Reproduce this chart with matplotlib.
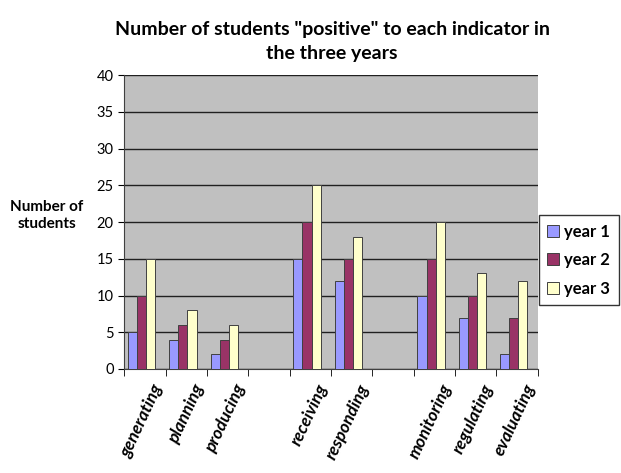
import numpy as np
import matplotlib.pyplot as plt

plt.rcParams['font.family'] = ['Lato', 'DejaVu Sans']

categories = ['generating', 'planning', 'producing', '',
              'receiving', 'responding', '',
              'monitoring', 'regulating', 'evaluating']
year1 = [5, 4, 2, 0, 15, 12, 0, 10, 7, 2]
year2 = [10, 6, 4, 0, 20, 15, 0, 15, 10, 7]
year3 = [15, 8, 6, 0, 25, 18, 0, 20, 13, 12]
series = ['year 1', 'year 2', 'year 3']
colors = ['#9999ff', '#993366', '#ffffcc']

fig = plt.figure(figsize=(6.21, 4.73), dpi=100)
ax = fig.add_axes([0.2, 0.22, 0.666, 0.621])
ax.set_facecolor('#c0c0c0')

x = np.arange(len(categories))
w = 0.22
handles = []
for i, (vals, c, lab) in enumerate(zip([year1, year2, year3], colors, series)):
    v = np.array(vals, dtype=float)
    mask = v > 0
    b = ax.bar(x[mask] + (i - 1) * w - 0.08, v[mask], width=w, color=c,
               edgecolor='#404040', linewidth=0.7, label=lab, zorder=3)
    handles.append(b)

ax.set_xlim(-0.5, len(categories) - 0.5)
ax.set_ylim(0, 40)
ax.set_yticks(range(0, 41, 5))
ax.yaxis.grid(True, color='#202020', linewidth=1.0, zorder=1)
ax.set_axisbelow(True)

# labels sit a little right of the slot centre, as in the original
ax.set_xticks(x + 0.15)
ax.set_xticklabels(categories, rotation=65, ha='right', rotation_mode='anchor',
                   fontsize=12.5, fontweight='bold', style='italic')
ax.tick_params(axis='x', length=0, pad=9)
ax.set_xticks(np.arange(-0.5, len(categories)), minor=True)
ax.tick_params(axis='x', which='minor', length=5, direction='out')
ax.tick_params(axis='y', labelsize=10.5, length=4)

for s in ['top', 'right']:
    ax.spines[s].set_visible(False)
ax.spines['left'].set_color('#404040')
ax.spines['bottom'].set_color('#404040')

fig.text(0.535, 0.955, 'Number of students "positive" to each indicator in\nthe three years',
         ha='center', va='top', fontsize=14, fontweight='bold', linespacing=1.45)
fig.text(0.075, 0.545, 'Number of\nstudents', ha='center', va='center',
         fontsize=11, fontweight='bold', linespacing=1.3)

leg = fig.legend(handles=handles, labels=series, loc='center left',
                 bbox_to_anchor=(0.862, 0.45), frameon=True, fancybox=False,
                 edgecolor='black', prop={'weight': 'bold', 'size': 12},
                 handlelength=0.7, handleheight=0.7, labelspacing=0.75,
                 borderpad=0.5, handletextpad=0.35, borderaxespad=0.2)

fig.savefig('out.png', dpi=100)
